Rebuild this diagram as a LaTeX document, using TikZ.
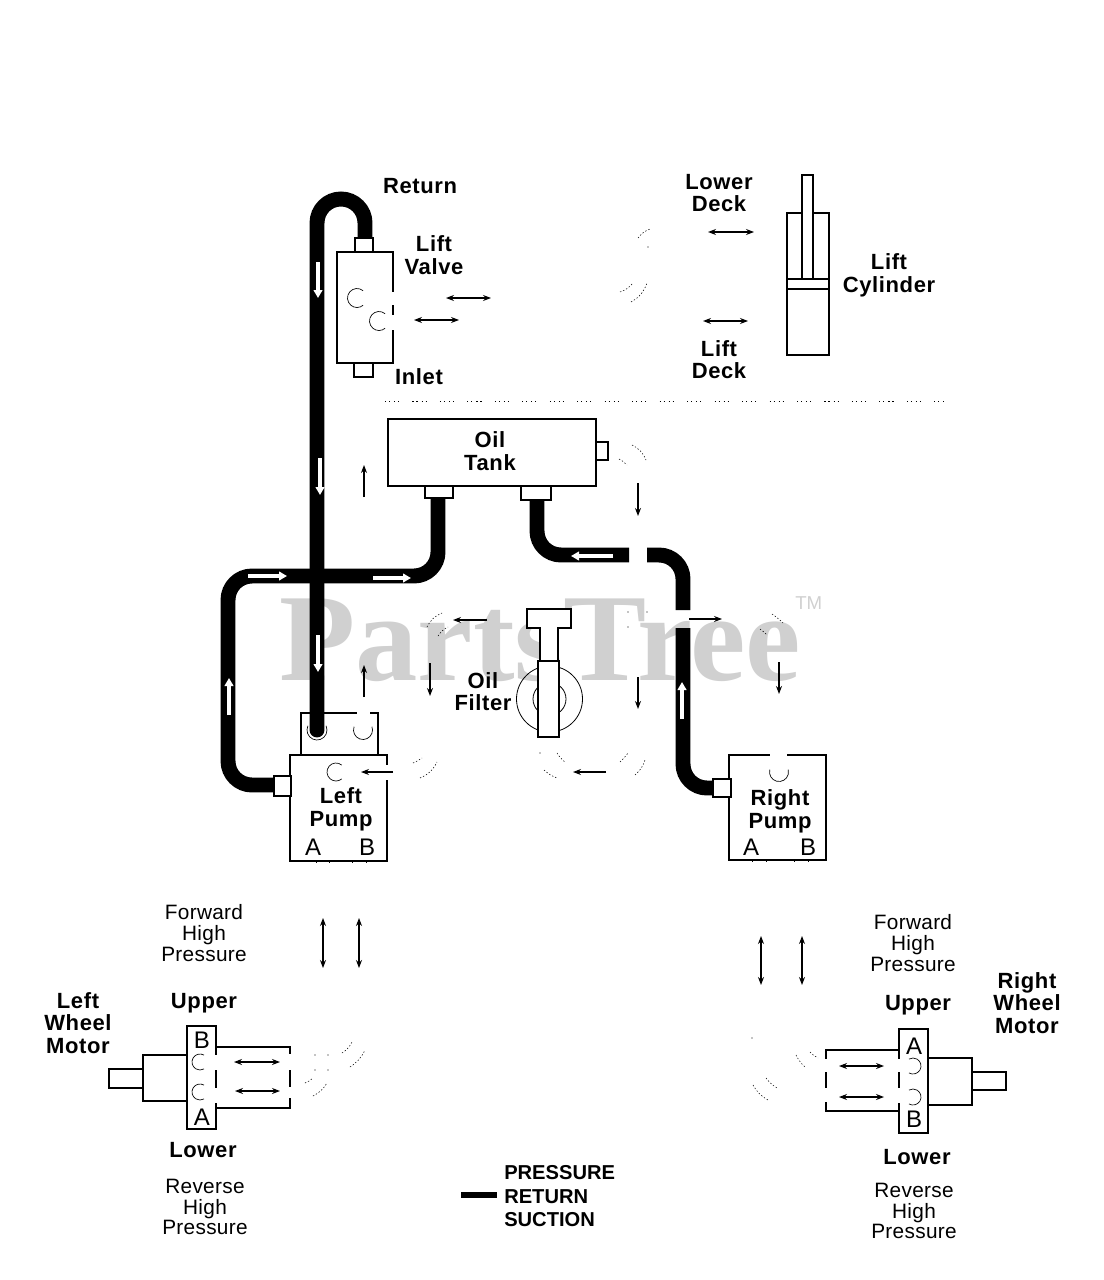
\documentclass[tikz,border=0pt]{standalone}
\usepackage{fontspec}
\setmainfont{Liberation Sans}
\newfontfamily\wmfont{Liberation Serif}
\usetikzlibrary{arrows.meta}
\tikzset{
  part/.style={draw=black,fill=white,line width=0.8pt,inner sep=0pt,rectangle},
  ring/.style={draw=black,line width=0.6pt,inner sep=0pt,circle},
  outline/.style={line width=0.8pt,draw=black},
  thinarc/.style={line width=0.5pt,draw=black},
  pipe/.style={line width=11.2pt,draw=black,rounded corners=18pt},
  gap/.style={draw=white,line width=2pt},
  faint/.style={line width=0.4pt,draw=black,dash pattern=on 1pt off 1.5pt},
  flow/.style={line width=0.8pt,draw=black,-{Stealth[length=6pt,width=4.5pt]}},
  flowtwo/.style={line width=0.8pt,draw=black,{Stealth[length=6pt,width=4.5pt]}-{Stealth[length=6pt,width=4.5pt]}},
  inpipe/.style={line width=2.6pt,draw=white,-{Triangle[length=6pt,width=6.5pt]}},
  lbl/.style={font=\fontsize{16.5}{17}\selectfont\bfseries\addfontfeature{LetterSpace=2.8},align=center,inner sep=0pt,text=black},
  note/.style={font=\fontsize{15.6}{15.6}\selectfont\addfontfeature{LetterSpace=1.5},align=center,inner sep=0pt,text=black},
  letter/.style={font=\fontsize{18}{18}\selectfont,inner sep=0pt,text=black},
  legendtxt/.style={font=\fontsize{15.1}{17.6}\selectfont\bfseries,align=left,inner sep=0pt,text=black},
}
\definecolor{wmgray}{RGB}{208,208,208}
\newcommand{\boxn}[5]{\node[part,minimum width={(#4-#2)*0.75pt},minimum height={(#5-#3)*0.75pt}] (#1) at ({(#2+#4)/2},{(#3+#5)/2}) {};}
\newcommand{\farrow}[4]{\coordinate (#1s) at #2; \coordinate (#1e) at #3; \draw[#4] (#1s) -- (#1e);}
\newcommand{\openarc}[5]{\draw[thinarc] ([shift={(#1,#2)}] #4:#3*0.75pt) arc[start angle=#4,end angle=#5,radius=#3*0.75pt];}
\newcommand{\fa}[3]{\draw[faint] #1 to[bend left=#3] #2;}
\begin{document}
\begin{tikzpicture}[x=0.75pt,y=-0.75pt]
\useasboundingbox (0,0) rectangle (1103,1280);
% watermark
\node[inner sep=0pt,text=wmgray] (wm) at (540,640) {\wmfont\bfseries\fontsize{93.5}{93.5}\selectfont PartsTree};
\node[inner sep=0pt,text=wmgray,anchor=west] (tm) at (795,603) {\fontsize{14}{14}\selectfont TM};
% pump top block and pumps (behind pipes)
\boxn{lpt}{301}{713}{378}{755}
\boxn{lp}{290}{755}{387}{861}
\boxn{rp}{729}{755}{826}{860}
\boxn{lv}{337}{252}{393}{363}
\boxn{tank}{388}{419}{596}{486}
% pipes
\coordinate (lpc1) at (317,730);
\coordinate (rtop) at (365,238);
\draw[pipe,rounded corners=18pt,line cap=round] (rtop) -- (365,199) -- (317,199) -- (lpc1);
\coordinate (lpin) at (276,785);
\coordinate (tkl) at (438,497);
\draw[pipe] (lpin) -- (228,785) -- (228,576) -- (438,576) -- (tkl);
\coordinate (tkr) at (537,499);
\coordinate (sa) at (629,555);
\coordinate (sb) at (647,555);
\coordinate (sc) at (683,610);
\coordinate (sd) at (683,628);
\coordinate (rpin) at (715,788);
\draw[pipe] (tkr) -- (537,555) -- (sa);
\draw[pipe] (sb) -- (683,555) -- (sc);
\draw[pipe] (sd) -- (683,788) -- (rpin);
% ports
\boxn{lvt}{355}{238}{373}{252}
\boxn{lvb}{354}{363}{373}{377}
\boxn{tkp}{596}{442}{608}{460}
\boxn{tkA}{425}{486}{453}{498}
\boxn{tkB}{521}{486}{551}{500}
\boxn{lpp}{274}{776}{291}{796}
\boxn{rpp}{713}{779}{731}{797}
% gaps in edges
\draw[gap] (393,292) -- (393,305);
\draw[gap] (393,315) -- (393,330);
\draw[gap] (357,713) -- (370,713);
\draw[gap] (387,765) -- (387,780);
\draw[gap] (770,755) -- (787,755);
% valve and pump ports
\openarc{357}{298}{9.5}{50}{310}
\openarc{379}{321}{9.5}{50}{310}
\openarc{317}{730}{10}{155}{385}
\openarc{363}{730}{9.5}{160}{380}
\openarc{336}{772}{9}{50}{310}
\openarc{779}{772}{9.5}{165}{375}
% pump ticks
\foreach \tx in {316,329,352,366} {\draw[thinarc] (\tx,861) -- (\tx,863);}
\foreach \tx in {752,766,794,808} {\draw[thinarc] (\tx,860) -- (\tx,862);}
% oil filter
\node[ring,minimum size={66*0.75pt}] (ff) at (549.5,699) {};
\node[ring,minimum size={33*0.75pt}] (fi) at (549.5,699) {};
\boxn{fh}{527}{609}{571}{628}
\boxn{fs}{540}{628}{558}{661}
\draw[gap] (541,628) -- (557,628);
\boxn{fb}{538}{661}{559}{737}
% lift cylinder
\boxn{cyl}{787}{213}{829}{355}
\boxn{cylr}{802}{175}{813}{279}
\draw[outline] (cyl.west |- 0,279) -- (cyl.east |- 0,279);
\draw[outline] (cyl.west |- 0,289) -- (cyl.east |- 0,289);
% left motor
\boxn{lms}{109}{1069}{143}{1088}
\boxn{lmb}{143}{1055}{187}{1101}
\boxn{lm}{187}{1026}{216}{1129}
\draw[gap] (216,1055) -- (216,1070);
\draw[gap] (216,1088) -- (216,1103);
\draw[outline] (lm.east |- 0,1047) -- (290,1047) -- (290,1054);
\draw[outline] (290,1070) -- (290,1087);
\draw[outline] (290,1098) -- (290,1108) -- (lm.east |- 0,1108);
\openarc{200}{1062}{8}{60}{300}
\openarc{200}{1092}{8}{60}{300}
% right motor
\boxn{rms}{972}{1072}{1006}{1090}
\boxn{rmb}{928}{1058}{972}{1105}
\boxn{rm}{899}{1029}{928}{1133}
\draw[gap] (899,1059) -- (899,1072);
\draw[gap] (899,1088) -- (899,1103);
\draw[outline] (rm.west |- 0,1050) -- (826,1050) -- (826,1059);
\draw[outline] (826,1072) -- (826,1088);
\draw[outline] (826,1102) -- (826,1111) -- (rm.west |- 0,1111);
\openarc{913}{1066}{8}{-120}{120}
\openarc{913}{1097}{8}{-120}{120}
% white arrows in pipes
\farrow{wa}{(318,262)}{(318,298)}{inpipe}
\farrow{wb}{(320,458)}{(320,495)}{inpipe}
\farrow{wc}{(318,635)}{(318,672)}{inpipe}
\farrow{wd}{(229,715)}{(229,678)}{inpipe}
\farrow{we}{(248,576)}{(287,576)}{inpipe}
\farrow{wf}{(373,578)}{(411,578)}{inpipe}
\farrow{wg}{(613,556)}{(571,556)}{inpipe}
\farrow{wh}{(682,719)}{(682,682)}{inpipe}
% black flow arrows
\farrow{ba}{(446,298)}{(491,298)}{flowtwo}
\farrow{bb}{(414,320)}{(459,320)}{flowtwo}
\farrow{bc}{(708,232)}{(754,232)}{flowtwo}
\farrow{bd}{(703,321)}{(748,321)}{flowtwo}
\farrow{be}{(364,497)}{(364,465)}{flow}
\farrow{bf}{(638,483)}{(638,516)}{flow}
\farrow{bg}{(487,620)}{(453,620)}{flow}
\farrow{bh}{(364,697)}{(364,665)}{flow}
\farrow{bi}{(430,663)}{(430,696)}{flow}
\farrow{bj}{(638,677)}{(638,709)}{flow}
\farrow{bk}{(393,772)}{(361,772)}{flow}
\farrow{bl}{(606,772)}{(573,772)}{flow}
\farrow{bm}{(689,619)}{(722,619)}{flow}
\farrow{bn}{(779,662)}{(779,694)}{flow}
\farrow{bo}{(323,918)}{(323,968)}{flowtwo}
\farrow{bp}{(359,918)}{(359,968)}{flowtwo}
\farrow{bq}{(761,936)}{(761,985)}{flowtwo}
\farrow{br}{(802,936)}{(802,985)}{flowtwo}
\farrow{bs}{(234,1062)}{(280,1062)}{flowtwo}
\farrow{bt}{(235,1091)}{(280,1091)}{flowtwo}
\farrow{bu}{(839,1066)}{(884,1066)}{flowtwo}
\farrow{bv}{(839,1097)}{(884,1097)}{flowtwo}
% faint remnants
\draw[line width=0.4pt,draw=black,dash pattern=on 0.8pt off 2.2pt on 0.8pt off 3pt on 0.8pt off 2.2pt on 0.8pt off 10pt] (385,401) -- (945,401);
\fa{(638,238)}{(650,229)}{15}
\fa{(620,292)}{(633,283)}{-15}
\fa{(631,302)}{(647,283)}{-20}
\fa{(632,445)}{(646,460)}{20}
\fa{(619,459)}{(627,465)}{10}
\fa{(427,627)}{(442,613)}{20}
\fa{(438,636)}{(448,627)}{15}
\fa{(772,614)}{(783,623)}{5}
\fa{(760,629)}{(767,635)}{5}
\fa{(413,763)}{(422,758)}{-5}
\fa{(420,778)}{(437,762)}{-20}
\fa{(544,770)}{(557,778)}{-10}
\fa{(557,753)}{(565,762)}{-10}
\fa{(620,762)}{(628,753)}{-5}
\fa{(635,775)}{(645,760)}{-15}
\fa{(342,1053)}{(352,1042)}{-15}
\fa{(350,1067)}{(365,1050)}{-15}
\fa{(305,1083)}{(313,1078)}{-10}
\fa{(313,1096)}{(327,1083)}{-15}
\fa{(796,1055)}{(805,1067)}{-10}
\fa{(810,1052)}{(818,1058)}{-10}
\fa{(753,1085)}{(768,1100)}{-15}
\fa{(766,1078)}{(777,1088)}{-10}
\foreach \sx/\sy in {628/612,647/612,628/627,315/1055,328/1055,315/1070,328/1070,752/1038,648/247,540/753} {\fill (\sx,\sy) circle[radius=0.5pt];}
% labels
\node[lbl] (tReturn) at (420,186) {Return};
\node[lbl] (tValve) at (434,255) {Lift\\Valve};
\node[lbl] (tInlet) at (419,377) {Inlet};
\node[lbl] (tLower) at (719,193) {Lower\\Deck};
\node[lbl] (tCyl) at (889,275.5) {Lift\\Cylinder};
\node[lbl] (tLift) at (719,359.5) {Lift\\Deck};
\node[lbl] (tTank) at (490,451) {Oil\\Tank};
\node[lbl] (tFilter) at (483,691.5) {Oil\\Filter};
\node[lbl] (tLP) at (341,809.5) {Left\\Pump};
\node[lbl] (tRP) at (780,811.5) {Right\\Pump};
\node[letter] (lpA) at (313,847) {A};
\node[letter] (lpB) at (367,847) {B};
\node[letter] (rpA) at (751,847) {A};
\node[letter] (rpB) at (808,847) {B};
\node[letter] (lmB2) at (202,1040) {B};
\node[letter] (lmA2) at (202,1117) {A};
\node[letter] (rmA2) at (914,1046) {A};
\node[letter] (rmB2) at (914,1119) {B};
\node[note] (tFl) at (204,933) {Forward\\High\\Pressure};
\node[note] (tFr) at (913,943) {Forward\\High\\Pressure};
\node[note] (tRl) at (205,1207) {Reverse\\High\\Pressure};
\node[note] (tRr) at (914,1211) {Reverse\\High\\Pressure};
\node[lbl] (tLW) at (78,1023) {Left\\Wheel\\Motor};
\node[lbl] (tRW) at (1027,1003) {Right\\Wheel\\Motor};
\node[lbl] (tUl) at (204,1003.5) {Upper};
\node[lbl] (tUr) at (918,1005.5) {Upper};
\node[lbl] (tLl) at (203,1150) {Lower};
\node[lbl] (tLr) at (917,1157) {Lower};
% legend
\node[legendtxt,anchor=west] (leg) at (504,1196.5) {PRESSURE\\RETURN\\SUCTION};
\coordinate (lega) at (461,1195);
\coordinate (legb) at (497,1195);
\draw[line width=5pt,draw=black] (lega) -- (legb);
\end{tikzpicture}
\end{document}
